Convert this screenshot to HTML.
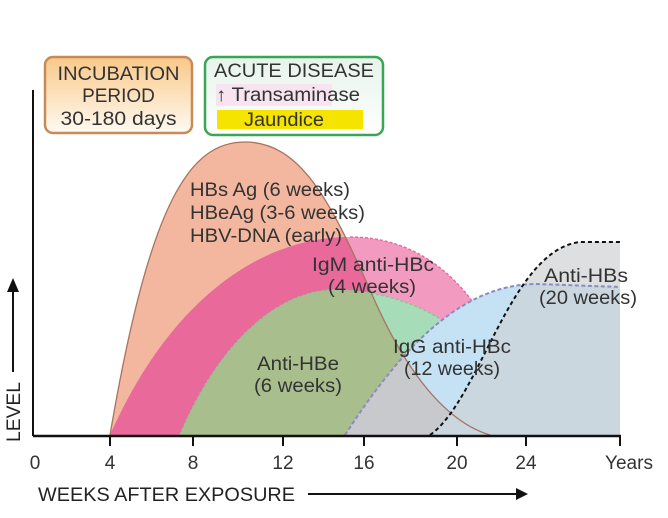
<!DOCTYPE html>
<html><head><meta charset="utf-8"><style>
html,body{margin:0;padding:0;background:#fff;}
svg{display:block;font-family:"Liberation Sans",Arial,sans-serif;}
</style></head><body>
<svg width="668" height="518" viewBox="0 0 668 518">
<defs>
<linearGradient id="go" x1="0" y1="0" x2="0" y2="1"><stop offset="0" stop-color="#f9c888"/><stop offset="1" stop-color="#fffaf2"/></linearGradient>
<linearGradient id="gg" x1="0" y1="0" x2="0" y2="1"><stop offset="0" stop-color="#e6f3ea"/><stop offset="1" stop-color="#ffffff"/></linearGradient>
<clipPath id="hbs"><path d="M110,435 C150,200 190,142 245,142 C300,142 330,200 370,290 C400,360 440,420 490,435 Z"/></clipPath>
<clipPath id="ahbs"><path d="M430,435 C480,400 510,250 580,242 L620,242 L620,435 Z"/></clipPath>
</defs>
<!-- boxes -->
<rect x="45" y="57" width="147" height="76" rx="8" fill="url(#go)" stroke="#c98a5a" stroke-width="2.5"/>
<text x="118.5" y="80" font-size="19" text-anchor="middle" fill="#333" textLength="122" lengthAdjust="spacingAndGlyphs">INCUBATION</text>
<text x="118.5" y="102" font-size="19" text-anchor="middle" fill="#333">PERIOD</text>
<text x="118.5" y="125" font-size="19" text-anchor="middle" fill="#333" textLength="116" lengthAdjust="spacingAndGlyphs">30-180 days</text>
<rect x="205" y="57" width="178" height="78" rx="8" fill="url(#gg)" stroke="#3aa655" stroke-width="2.5"/>
<text x="294" y="77" font-size="19" text-anchor="middle" fill="#333" textLength="160" lengthAdjust="spacingAndGlyphs">ACUTE DISEASE</text>
<rect x="216" y="84" width="116" height="22" fill="#f7e4f0"/>
<text x="216" y="101" font-size="19" fill="#333" textLength="144" lengthAdjust="spacingAndGlyphs">↑ Transaminase</text>
<rect x="217" y="110" width="146" height="19" fill="#f5e300"/>
<text x="244" y="126" font-size="19" fill="#333" textLength="80" lengthAdjust="spacingAndGlyphs">Jaundice</text>

<path d="M110,435 C150,200 190,142 245,142 C300,142 330,200 370,290 C400,360 440,420 490,435 Z" fill="#f3b7a0"/>
<path d="M110,435 C170,300 260,237 350,237 C410,237 450,270 475,305 L475,435 Z" fill="#f29ac0"/>
<path d="M110,435 C170,300 260,237 350,237 C410,237 450,270 475,305 L475,435 Z" fill="#e8699a" clip-path="url(#hbs)"/>
<path d="M350,237 C410,237 450,270 475,305" fill="none" stroke="#e56ea0" stroke-width="1.5" stroke-dasharray="3,2"/>
<path d="M180,435 C220,340 280,290 335,290 C380,290 420,305 445,322 L445,435 Z" fill="#a6dcb8"/>
<path d="M180,435 C220,340 280,290 335,290 C380,290 420,305 445,322 L445,435 Z" fill="#a9be8d" clip-path="url(#hbs)"/>
<path d="M180,435 C220,340 280,290 335,290 C380,290 420,305 445,322" fill="none" stroke="#8fc49a" stroke-width="1.5" stroke-dasharray="3,2"/>
<path d="M430,435 C480,400 510,250 580,242 L620,242 L620,435 Z" fill="#dedfe0"/>
<path d="M345,435 C400,350 460,284 537,284 L620,287 L620,435 Z" fill="#c4e2f4"/>
<path d="M345,435 C400,350 460,284 537,284 L620,287 L620,435 Z" fill="#c8c9cd" clip-path="url(#hbs)"/>
<path d="M345,435 C400,350 460,284 537,284 L620,287 L620,435 Z" fill="#cad7de" clip-path="url(#ahbs)"/>
<path d="M345,435 C400,350 460,284 537,284 L620,287" fill="none" stroke="#8a8cc0" stroke-width="2" stroke-dasharray="4,2.5"/>
<path d="M110,435 C150,200 190,142 245,142 C300,142 330,200 370,290 C400,360 440,420 490,435" fill="none" stroke="#a8735f" stroke-width="1.3"/>
<path d="M430,435 C480,400 510,250 580,242 L620,242" fill="none" stroke="#111" stroke-width="2" stroke-dasharray="4,3"/>

<line x1="33" y1="90" x2="33" y2="436" stroke="#111" stroke-width="2"/>
<line x1="33" y1="436" x2="621" y2="436" stroke="#111" stroke-width="2.5"/>
<g stroke="#111" stroke-width="2">
<line x1="110" y1="436" x2="110" y2="446"/><line x1="193" y1="436" x2="193" y2="446"/>
<line x1="283" y1="436" x2="283" y2="446"/><line x1="364" y1="436" x2="364" y2="446"/>
<line x1="457" y1="436" x2="457" y2="446"/><line x1="526" y1="436" x2="526" y2="446"/>
<line x1="620" y1="436" x2="620" y2="446"/>
</g>
<g font-size="19" fill="#333" text-anchor="middle">
<text x="35" y="469">0</text><text x="110" y="469">4</text><text x="193" y="469">8</text>
<text x="283" y="469">12</text><text x="364" y="469">16</text><text x="457" y="469">20</text>
<text x="526" y="469">24</text><text x="629" y="469" textLength="48" lengthAdjust="spacingAndGlyphs">Years</text>
</g>
<text x="38" y="501" font-size="19" fill="#222" textLength="257" lengthAdjust="spacingAndGlyphs">WEEKS AFTER EXPOSURE</text>
<line x1="308" y1="494" x2="518" y2="494" stroke="#111" stroke-width="2"/>
<path d="M528,494 L516,488 L516,500 Z" fill="#111"/>
<text transform="translate(20,442) rotate(-90)" font-size="19" fill="#222" textLength="60" lengthAdjust="spacingAndGlyphs">LEVEL</text>
<line x1="13" y1="372" x2="13" y2="290" stroke="#111" stroke-width="2"/>
<path d="M13,278 L7,292 L19,292 Z" fill="#111"/>

<g font-size="19" fill="#333">
<text x="190" y="196" textLength="160" lengthAdjust="spacingAndGlyphs">HBs Ag (6 weeks)</text>
<text x="190" y="219" textLength="175" lengthAdjust="spacingAndGlyphs">HBeAg (3-6 weeks)</text>
<text x="190" y="242" textLength="152" lengthAdjust="spacingAndGlyphs">HBV-DNA (early)</text>
</g>
<g font-size="19" fill="#333" text-anchor="middle">
<text x="373" y="271" textLength="122" lengthAdjust="spacingAndGlyphs">IgM anti-HBc</text>
<text x="372" y="293" textLength="88" lengthAdjust="spacingAndGlyphs">(4 weeks)</text>
<text x="298" y="370" textLength="82" lengthAdjust="spacingAndGlyphs">Anti-HBe</text>
<text x="298" y="392" textLength="88" lengthAdjust="spacingAndGlyphs">(6 weeks)</text>
<text x="452" y="353" textLength="118" lengthAdjust="spacingAndGlyphs">IgG anti-HBc</text>
<text x="452" y="375" textLength="96" lengthAdjust="spacingAndGlyphs">(12 weeks)</text>
<text x="586" y="282" textLength="84" lengthAdjust="spacingAndGlyphs">Anti-HBs</text>
<text x="588" y="304" textLength="98" lengthAdjust="spacingAndGlyphs">(20 weeks)</text>
</g>
</svg>
</body></html>
